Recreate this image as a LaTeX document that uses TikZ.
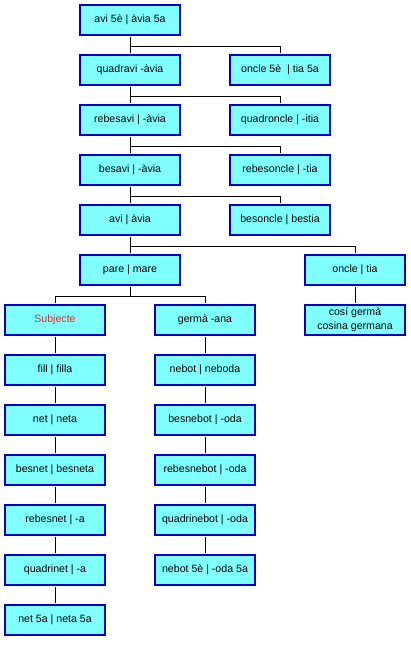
\documentclass[tikz,border=0pt]{standalone}
\usepackage{fontspec}
\setmainfont{Liberation Sans}
\definecolor{boxblue}{HTML}{0000CC}
\definecolor{boxcyan}{HTML}{80FFFF}
\definecolor{subjred}{HTML}{CC3333}
\tikzset{
	rel/.style={draw=boxblue, line width=2pt, fill=boxcyan, minimum width=100pt, minimum height=30pt,
		inner sep=0pt, align=center, font=\fontsize{10.6}{14}\selectfont},
	link/.style={draw=black, line width=0.8pt, shorten <=1pt, shorten >=1pt}
}
\begin{document}
\begin{tikzpicture}[node distance=50pt]
			\useasboundingbox (0pt,0pt) rectangle (411pt,-647pt);
			\node(avi5) [rel] at (130pt,-20pt) {avi 5è | àvia 5a};
			\node(quadravi) [rel, below of=avi5] {quadravi -àvia};
			\node(rebesavi) [rel, below of=quadravi] {rebesavi | -àvia};
			\node(besavi) [rel, below of=rebesavi] {besavi | -àvia};
			\node(avi) [rel, below of=besavi] {avi | àvia};
			\node(pare) [rel, below of=avi] {pare | mare};

			\node(oncle5) [rel, right of=quadravi, xshift=100pt] {oncle 5è~ | tia 5a};
			\node(quadroncle) [rel, right of=rebesavi, xshift=100pt] {quadroncle | -itia};
			\node(rebesoncle) [rel, right of=besavi, xshift=100pt] {rebesoncle | -tia};
			\node(besoncle) [rel, right of=avi, xshift=100pt] {besoncle | bestia};
			\node(oncle) [rel, right of=pare, xshift=175pt] {oncle | tia};
			\node(cosi) [rel, below of=oncle] {cosí germà\\cosina germana};

			\node(subj) [rel, below of=pare, xshift=-75pt, text=subjred] {Subjecte};
			\node(fill) [rel, below of=subj] {fill | filla};
			\node(net) [rel, below of=fill] {net | neta};
			\node(besnet) [rel, below of=net] {besnet | besneta};
			\node(rebesnet) [rel, below of=besnet] {rebesnet | -a};
			\node(quadrinet) [rel, below of=rebesnet] {quadrinet | -a};
			\node(net5) [rel, below of=quadrinet] {net 5a | neta 5a};

			\node(germa) [rel, below of=pare, xshift=75pt] {germà -ana};
			\node(nebot) [rel, below of=germa] {nebot | neboda};
			\node(besnebot) [rel, below of=nebot] {besnebot | -oda};
			\node(rebesnebot) [rel, below of=besnebot] {rebesnebot | -oda};
			\node(quadrinebot) [rel, below of=rebesnebot] {quadrinebot | -oda};
			\node(nebot5) [rel, below of=quadrinebot] {nebot 5è | -oda 5a};

			\draw[link](avi5) -- (quadravi);
			\draw[link](quadravi) -- (rebesavi);
			\draw[link](rebesavi) -- (besavi);
			\draw[link](besavi) -- (avi);
			\draw[link](avi) -- (pare);
			\draw[link](avi5.south) -- ++(0,-10pt) -| (oncle5.north);
			\draw[link](quadravi.south) -- ++(0,-10pt) -| (quadroncle.north);
			\draw[link](rebesavi.south) -- ++(0,-10pt) -| (rebesoncle.north);
			\draw[link](besavi.south) -- ++(0,-10pt) -| (besoncle.north);
			\draw[link](avi.south) -- ++(0,-10pt) -| (oncle.north);
			\draw[link](oncle) -- (cosi);
			\draw[link](pare.south) -- ++(0,-10pt) -| (subj.north);
			\draw[link](pare.south) -- ++(0,-10pt) -| (germa.north);
			\draw[link](subj) -- (fill);
			\draw[link](fill) -- (net);
			\draw[link](net) -- (besnet);
			\draw[link](besnet) -- (rebesnet);
			\draw[link](rebesnet) -- (quadrinet);
			\draw[link](quadrinet) -- (net5);
			\draw[link](germa) -- (nebot);
			\draw[link](nebot) -- (besnebot);
			\draw[link](besnebot) -- (rebesnebot);
			\draw[link](rebesnebot) -- (quadrinebot);
			\draw[link](quadrinebot) -- (nebot5);
		\end{tikzpicture}
\end{document}
